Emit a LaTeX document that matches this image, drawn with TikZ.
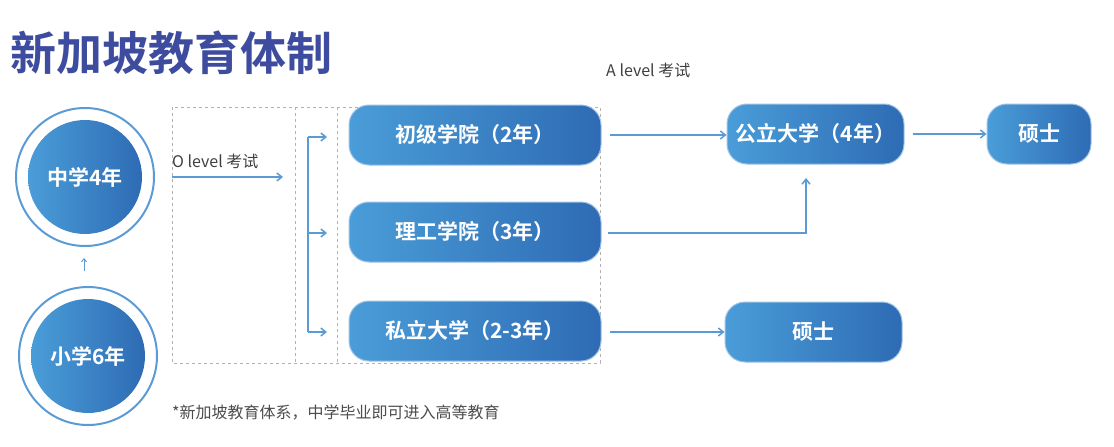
\documentclass[tikz,border=0pt]{standalone}
\usepackage{fontspec}
\setmainfont{Noto Sans CJK SC}
\newfontfamily\cjkb{Noto Sans CJK SC Bold}
\usetikzlibrary{arrows.meta}
\definecolor{gl}{HTML}{4A9DD8}
\definecolor{gr}{HTML}{2E6BB4}
\definecolor{ar}{HTML}{5B9BD5}
\definecolor{tt}{HTML}{3D4C9E}
\tikzset{
 x=1pt,y=-1pt,
 bx/.style={rounded corners=20pt,left color=gl,right color=gr,draw=ar!60,line width=1pt,text=white,font=\cjkb\fontsize{21}{24}\selectfont,minimum height=60pt,inner sep=0pt},
 ar/.style={draw=ar,line width=1.5pt,-{Straight Barb[length=5pt,width=8pt]}},
 ring/.style={draw=ar,line width=2pt,circle,minimum size=138pt},
 disc/.style={circle,left color=gl,right color=gr,text=white,font=\cjkb\fontsize{21}{24}\selectfont,minimum size=114pt,inner sep=0pt},
 dsh/.style={draw=gray!60,dashed,line width=0.6pt}
}
\begin{document}
\begin{tikzpicture}
\useasboundingbox (0,0) rectangle (1114,447);
\node[anchor=base west,text=tt,font=\cjkb\fontsize{46}{50}\selectfont,inner sep=0pt] (title) at (10,70) {新加坡教育体制};
% circles
\node[ring] (r1) at (85,177) {};
\node[disc] (c1) at (85,177) {中学4年};
\node[ring] (r2) at (88,356) {};
\node[disc] (c2) at (88,356) {小学6年};
\draw[ar,line width=1pt,-{Straight Barb[length=3pt,width=5pt]}] (84,271) -- (84,258);
% dashed box
\draw[dsh] (172,107) rectangle (600,363);
\draw[dsh] (295,107) -- (295,363);
\draw[dsh] (337,107) -- (337,363);
\node[anchor=base west,inner sep=0pt,text=black!75,font=\fontsize{16}{18}\selectfont] (ol) at (172,167) {O level 考试};
\coordinate (o1) at (172,177);
\coordinate (o2) at (283,177);
\draw[ar] (o1) -- (o2);
% boxes
\node[bx,minimum width=252pt] (b1) at (475,135) {初级学院（2年）};
\node[bx,minimum width=252pt] (b2) at (475,232) {理工学院（3年）};
\node[bx,minimum width=252pt] (b3) at (475,331) {私立大学（2-3年）};
\node[bx,minimum width=177pt] (u) at (815.5,134) {公立大学（4年）};
\node[bx,minimum width=104pt] (m1) at (1039,134) {硕士};
\node[bx,minimum width=177pt] (m2) at (813.5,332) {硕士};
% bracket
\coordinate (k1) at (308,137);
\coordinate (k3) at (308,332);
\draw[draw=ar,line width=1.5pt] (k1) -- (k3);
\draw[ar] (k1) -- (327,137);
\draw[ar] (308,233) -- (327,233);
\draw[ar] (k3) -- (327,332);
% right arrows
\node[anchor=base west,inner sep=0pt,text=black!75,font=\fontsize{16}{18}\selectfont] (al) at (606,76) {A level 考试};
\draw[ar] (610,135) -- (u.west|-0,135);
\draw[ar] (u.east) ++(8,0) -- (m1.west);
\draw[ar] (608,233) -| (806,178);
\draw[ar] (610,332) -- (m2.west);
\node[anchor=base west,inner sep=0pt,text=black!70,font=\fontsize{16}{18}\selectfont] (fn) at (172,418) {*新加坡教育体系，中学毕业即可进入高等教育};
\end{tikzpicture}
\end{document}
